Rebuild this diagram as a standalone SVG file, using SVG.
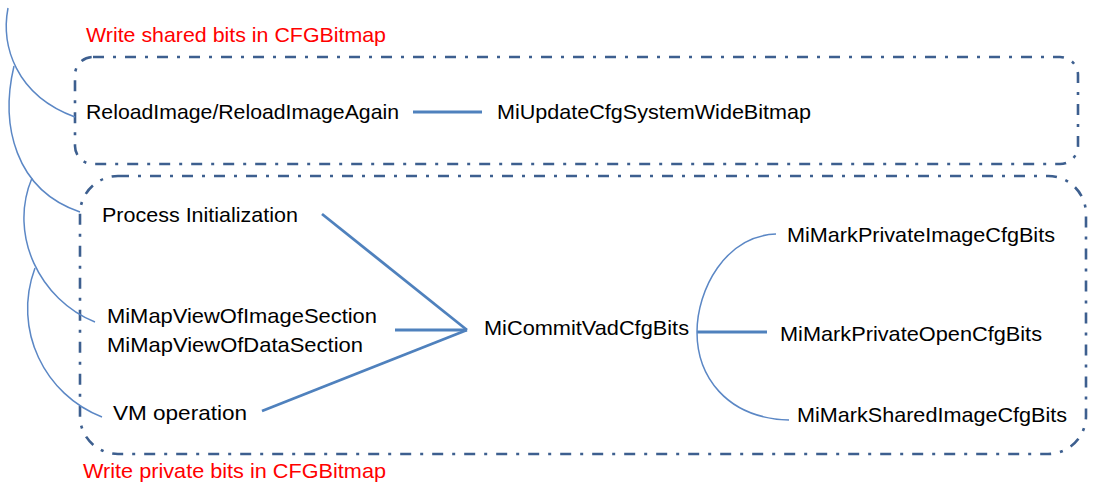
<svg xmlns="http://www.w3.org/2000/svg" width="1103" height="493" viewBox="0 0 1103 493">
<style>
.t{font-family:"Liberation Sans",Arial,sans-serif;font-size:21px;fill:#000}
.r{fill:#ff0000}
.box{fill:none;stroke:#3d5f8f;stroke-width:2.6;stroke-dasharray:11 9 3 9}
.thick{fill:none;stroke:#4f81bd;stroke-width:2.8}
.thin{fill:none;stroke:#5b87c5;stroke-width:1.5}
</style>
<rect width="1103" height="493" fill="#fff"/>
<g id="group-shared">
<rect class="box" x="75" y="57" width="1003" height="107" rx="18"/>
</g>
<g id="group-private">
<rect class="box" x="80" y="176" width="1006" height="278" rx="38"/>
</g>
<g id="connectors">
<path class="thin" d="M8,8 C1,45 15,95 75,117"/>
<path class="thin" d="M14,66 C0,125 15,190 80,212"/>
<path class="thin" d="M32,178 C8,235 40,300 95,322"/>
<path class="thin" d="M35,268 C12,330 45,395 102,417"/>
<path class="thick" d="M413,112 H482"/>
<path class="thick" d="M322,214 L467,330"/>
<path class="thick" d="M395,330 H467"/>
<path class="thick" d="M262,411 L467,330"/>
<path class="thick" d="M697,332 H767"/>
<path class="thin" d="M776,234 C725,236 697,290 697,332 C697,375 725,418 789,420"/>
</g>
<g id="label-shared"><text class="t r" x="86" y="42" textLength="300" lengthAdjust="spacingAndGlyphs">Write shared bits in CFGBitmap</text></g>
<g id="node-reload"><text class="t" x="86" y="119" textLength="313" lengthAdjust="spacingAndGlyphs">ReloadImage/ReloadImageAgain</text></g>
<g id="node-update"><text class="t" x="497" y="119" textLength="314" lengthAdjust="spacingAndGlyphs">MiUpdateCfgSystemWideBitmap</text></g>
<g id="node-procinit"><text class="t" x="102" y="222" textLength="196" lengthAdjust="spacingAndGlyphs">Process Initialization</text></g>
<g id="node-mapview">
<text class="t" x="107" y="323" textLength="270" lengthAdjust="spacingAndGlyphs">MiMapViewOfImageSection</text>
<text class="t" x="107" y="352" textLength="256" lengthAdjust="spacingAndGlyphs">MiMapViewOfDataSection</text>
</g>
<g id="node-vm"><text class="t" x="113" y="420" textLength="134" lengthAdjust="spacingAndGlyphs">VM operation</text></g>
<g id="node-commit"><text class="t" x="484" y="335" textLength="205" lengthAdjust="spacingAndGlyphs">MiCommitVadCfgBits</text></g>
<g id="node-privimage"><text class="t" x="787" y="242" textLength="268" lengthAdjust="spacingAndGlyphs">MiMarkPrivateImageCfgBits</text></g>
<g id="node-privopen"><text class="t" x="780" y="341" textLength="262" lengthAdjust="spacingAndGlyphs">MiMarkPrivateOpenCfgBits</text></g>
<g id="node-sharedimage"><text class="t" x="797" y="422" textLength="270" lengthAdjust="spacingAndGlyphs">MiMarkSharedImageCfgBits</text></g>
<g id="label-private"><text class="t r" x="83" y="478" textLength="303" lengthAdjust="spacingAndGlyphs">Write private bits in CFGBitmap</text></g>
</svg>
